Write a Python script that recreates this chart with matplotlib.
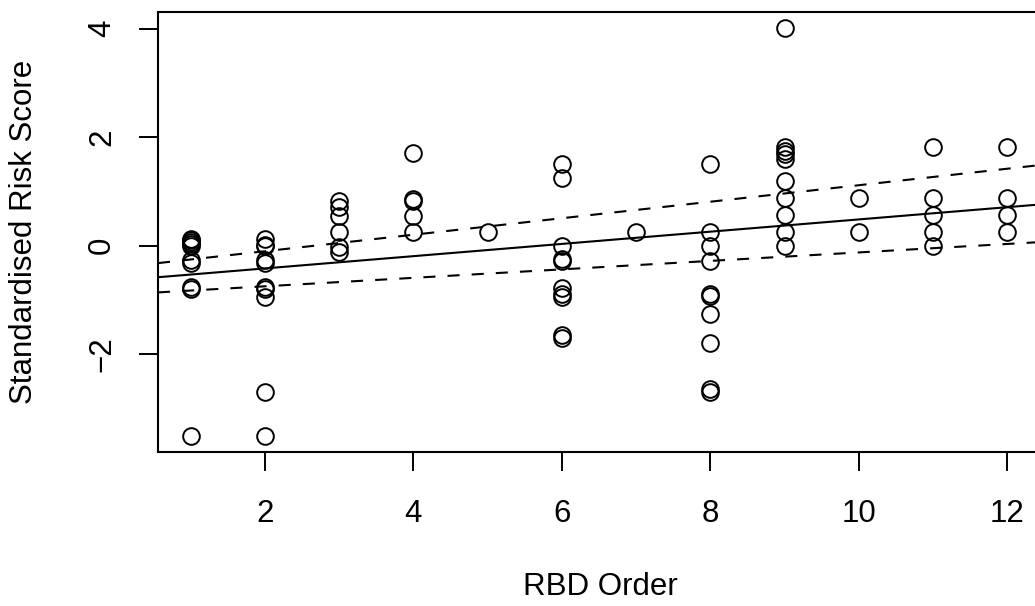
import matplotlib
matplotlib.use("Agg")
import matplotlib.pyplot as plt

plt.rcParams['font.family'] = ['Liberation Sans', 'DejaVu Sans']

# RBD order (x) and standardised risk score (y)
rbd_order = [1]*10 + [2]*10 + [3]*6 + [4]*5 + [5] + [6]*10 + [7] + [8]*10 + [9]*10 + [10]*2 + [11]*5 + [12]*4
risk_score = [
    0.12, 0.07, 0.03, 0.0, -0.26, -0.31, -0.76, -0.79, -3.50, 0.10,      # 1
    0.12, 0.01, -0.26, -0.31, -0.76, -0.80, -0.95, -2.70, -3.50, 0.0,    # 2
    0.82, 0.72, 0.55, 0.25, -0.03, -0.12,                                 # 3
    1.71, 0.86, 0.83, 0.55, 0.25,                                          # 4
    0.25,                                                                  # 5
    1.51, 1.24, 0.0, -0.25, -0.29, -0.78, -0.89, -0.95, -1.64, -1.70,    # 6
    0.25,                                                                  # 7
    1.51, 0.26, -0.01, -0.29, -0.89, -0.93, -1.25, -1.79, -2.64, -2.70,  # 8
    4.01, 1.82, 1.75, 1.69, 1.60, 1.20, 0.88, 0.57, 0.26, -0.01,          # 9
    0.87, 0.26,                                                            # 10
    1.81, 0.87, 0.57, 0.26, -0.01,                                         # 11
    1.81, 0.87, 0.57, 0.26,                                                # 12
]

# fitted line and bounds (intercept, slope)
fit_line = (-0.644, 0.1128)
upper_line = (-0.406, 0.152)
lower_line = (-0.904, 0.078)

x_ticks = [2, 4, 6, 8, 10, 12]
y_ticks = [-2, 0, 2, 4]

fig = plt.figure(figsize=(10.35, 6.06), dpi=100)
ax = fig.add_axes([158/1035, 1 - 452/606, 882/1035, 440.3/606])

ax.plot(rbd_order, risk_score, linestyle='none', marker='o', markersize=12,
        markerfacecolor='none', markeredgecolor='black', markeredgewidth=1.4)

ax.axline((0, fit_line[0]), slope=fit_line[1], color='black', linewidth=1.5)
for b in (upper_line, lower_line):
    ax.axline((0, b[0]), slope=b[1], color='black', linewidth=1.5,
              linestyle=(0, (5.8, 5.8)))

ax.set_xlim(0.56, 12.44)
ax.set_ylim(-3.80, 4.31)
ax.set_xticks(x_ticks)
ax.set_yticks(y_ticks)
ax.set_xticklabels([str(v) for v in x_ticks])
ax.set_yticklabels([str(v) if v >= 0 else '\u2212' + str(-v) for v in y_ticks],
                   rotation=90, va='center')

ax.tick_params(axis='both', direction='out', length=14, width=1.4,
               labelsize=22.5, color='black')
ax.tick_params(axis='x', pad=19.5)
ax.tick_params(axis='y', pad=15.5)
for s in ax.spines.values():
    s.set_linewidth(1.5)

ax.set_xlabel('RBD Order', fontsize=22.5)
ax.set_ylabel('Standardised Risk Score', fontsize=22.5)
ax.xaxis.set_label_coords((600 - 158) / 882, (452 - 587) / 440.3)
ax.yaxis.set_label_coords((24 - 158) / 882, (452 - 232) / 440.3)
ax.xaxis.label.set_va('center')
ax.yaxis.label.set_va('center')

fig.savefig('out.png', dpi=100)
